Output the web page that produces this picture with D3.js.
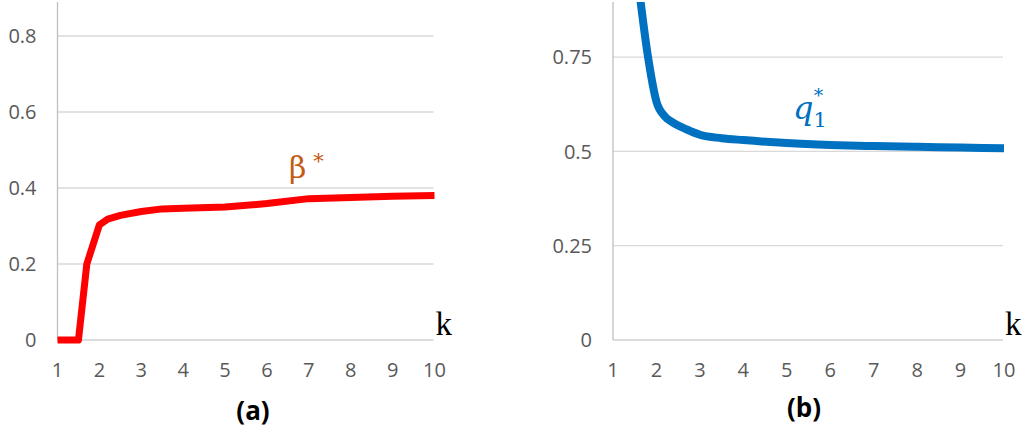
<!DOCTYPE html>
<html>
<head>
<meta charset="utf-8">
<script src="https://cdn.jsdelivr.net/npm/d3@7"></script>
<style>
  body { margin: 0; background: #fff; }
  text { font-family: "Open Sans", sans-serif; }
</style>
</head>
<body>
<div id="chart"></div>
<script>
// panel (a): beta* vs k
var kA = [1, 1.5, 1.7, 2, 2.2, 2.5, 3, 3.5, 4, 5, 6, 7, 8, 9, 10];
var betaA = [0, 0, 0.2, 0.303, 0.318, 0.328, 0.338, 0.345, 0.347, 0.35, 0.359, 0.372, 0.375, 0.378, 0.38];
var yTicksA = [0, 0.2, 0.4, 0.6, 0.8];

// panel (b): q1* vs k
var kB = [1.6, 1.8, 2, 2.2, 2.4, 2.7, 3, 3.5, 4, 5, 6, 7, 8, 9, 10];
var q1B = [0.93, 0.755, 0.632, 0.592, 0.575, 0.558, 0.544, 0.535, 0.53, 0.522, 0.517, 0.514, 0.512, 0.51, 0.508];
var yTicksB = [0, 0.25, 0.5, 0.75];

var xTicks = [1, 2, 3, 4, 5, 6, 7, 8, 9, 10];

var width = 1035, height = 433;

var svg = d3.select("#chart").append("svg")
    .attr("width", width)
    .attr("height", height);

function panel(opt) {
    var x = d3.scaleLinear().domain([1, 10]).range([opt.x0, opt.x1]);
    var y = d3.scaleLinear().domain([0, 0.9]).range([340, opt.top]);

    var g = svg.append("g");

    g.append("clipPath").attr("id", opt.id)
      .append("rect")
        .attr("x", opt.x0 - 10).attr("y", 2)
        .attr("width", opt.x1 - opt.x0 + 20).attr("height", 345);

    // gridlines
    g.selectAll(".grid")
      .data(opt.yTicks)
      .enter().append("line")
        .attr("x1", x(1)).attr("x2", x(10) - 1)
        .attr("y1", function(d){ return y(d); })
        .attr("y2", function(d){ return y(d); })
        .style("stroke", function(d){ return d === 0 ? "#d0d0d0" : "#d9d9d9"; })
        .style("stroke-width", 1.3);

    // y axis line
    g.append("line")
        .attr("x1", x(1)).attr("x2", x(1))
        .attr("y1", 2).attr("y2", y(0))
        .style("stroke", "#bfbfbf")
        .style("stroke-width", 1.3);

    g.selectAll(".ylab")
      .data(opt.yTicks)
      .enter().append("text")
        .attr("x", x(1) - 21)
        .attr("y", function(d){ return y(d); })
        .attr("dy", "0.36em")
        .attr("text-anchor", "end")
        .style("font-size", "20px")
        .style("fill", "#595959")
        .text(function(d){ return d; });

    g.selectAll(".xlab")
      .data(xTicks)
      .enter().append("text")
        .attr("x", function(d){ return x(d); })
        .attr("y", 370)
        .attr("dy", "0.36em")
        .attr("text-anchor", "middle")
        .style("font-size", "20px")
        .style("fill", "#595959")
        .text(function(d){ return d; });

    var line = d3.line()
        .x(function(d){ return x(d[0]); })
        .y(function(d){ return y(d[1]); })
        .curve(opt.curve);

    g.append("path")
        .datum(d3.zip(opt.k, opt.v))
        .attr("clip-path", "url(#" + opt.id + ")")
        .attr("d", line)
        .style("fill", "none")
        .style("stroke", opt.color)
        .style("stroke-width", opt.lw)
        .style("stroke-linejoin", "round");

    // axis name
    g.append("text")
        .attr("x", x(10) + 1)
        .attr("y", 335)
        .style("font-family", "'Liberation Serif', serif")
        .style("font-size", "33px")
        .style("fill", "#000")
        .text("k");

    g.append("text")
        .attr("x", opt.capX)
        .attr("y", opt.capY)
        .attr("text-anchor", "middle")
        .style("font-size", "26px")
        .style("font-weight", "bold")
        .style("fill", "#000")
        .text(opt.caption);

    return g;
}

var ga = panel({ id: "clipA", x0: 57.5, x1: 434.5, top: -2, yTicks: yTicksA,
    k: kA, v: betaA, color: "#ff0000", lw: 7, curve: d3.curveLinear,
    caption: "(a)", capX: 253, capY: 420 });

var gb = panel({ id: "clipB", x0: 613, x1: 1004, top: 0.5, yTicks: yTicksB,
    k: kB, v: q1B, color: "#0070c0", lw: 8, curve: d3.curveMonotoneX,
    caption: "(b)", capX: 804, capY: 417 });

// series labels
var bl = ga.append("text")
    .attr("x", 289)
    .attr("y", 178)
    .style("font-family", "'DejaVu Serif', serif")
    .style("fill", "#c55a11");
bl.append("tspan").style("font-size", "30px").text("β");
bl.append("tspan").attr("dx", 7).attr("dy", -10).style("font-size", "21px").text("*");

var ql = gb.append("text")
    .attr("x", 793)
    .attr("y", 119)
    .style("font-family", "'DejaVu Serif', serif")
    .style("fill", "#0070c0");
ql.append("tspan").style("font-size", "32px").style("font-style", "italic").text("q");
ql.append("tspan").attr("dy", 8).style("font-size", "21px").text("1");
ql.append("tspan").attr("dx", -13).attr("dy", -25).style("font-size", "19px").text("*");
</script>
</body>
</html>
